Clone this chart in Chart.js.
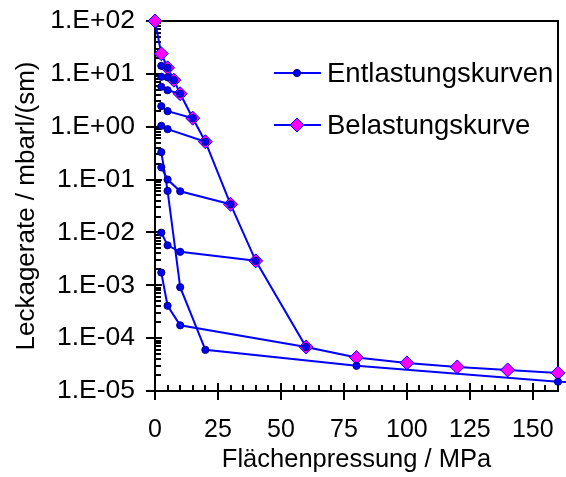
<!DOCTYPE html>
<html lang="de">
<head>
<meta charset="UTF-8">
<title>Leckagerate über Flächenpressung</title>
<script src="https://cdn.jsdelivr.net/npm/chart.js@4"></script>
<style>
  html, body { margin: 0; padding: 0; background: #fff; }
  #chart { display: block; }
</style>
</head>
<body>
<canvas id="chart" width="566" height="477"></canvas>
<script>
// Belastungskurve: Flächenpressung in MPa, Leckagerate in mbar·l/(s·m)
const belDruck = [0, 2.5, 5, 7.5, 10, 15, 20, 30, 40, 60, 80, 100, 120, 140, 160, 180];
const belLeck = [100, 24, 13, 7.6, 4.2, 1.45, 0.52, 0.034, 0.0029, 6.8e-5, 4.3e-5, 3.4e-5, 2.85e-5, 2.5e-5, 2.2e-5, 1.95e-5];

// Entlastungskurven, jeweils vom Höchstwert der Belastung abwärts
const ent5Druck = [5, 2.5];
const ent5Leck = [13, 14.2];
const ent7Druck = [7.5, 5, 2.5];
const ent7Leck = [7.6, 8.6, 8.8];
const ent10Druck = [10, 5, 2.5];
const ent10Leck = [4.2, 4.9, 5.7];
const ent15Druck = [15, 5, 2.5];
const ent15Leck = [1.45, 1.97, 2.45];
const ent20Druck = [20, 5, 2.5];
const ent20Leck = [0.52, 0.9, 1.04];
const ent30Druck = [30, 10, 5, 2.5];
const ent30Leck = [0.034, 0.06, 0.1, 0.17];
const ent40Druck = [40, 10, 5, 2.5];
const ent40Leck = [0.0029, 0.0043, 0.0057, 0.0099];
const ent60Druck = [60, 10, 5, 2.5];
const ent60Leck = [6.8e-5, 1.75e-4, 4.1e-4, 1.74e-3];
const ent160Druck = [180, 160, 80, 20, 10, 5, 2.5];
const ent160Leck = [1.35e-5, 1.5e-5, 3.0e-5, 6.0e-5, 9.2e-4, 0.061, 0.33];

const xTicks = [0, 25, 50, 75, 100, 125, 150];
const yTicks = [1e-5, 1e-4, 1e-3, 1e-2, 1e-1, 1e0, 1e1, 1e2];

const entlastungen = [
  [ent5Druck, ent5Leck], [ent7Druck, ent7Leck], [ent10Druck, ent10Leck],
  [ent15Druck, ent15Leck], [ent20Druck, ent20Leck], [ent30Druck, ent30Leck],
  [ent40Druck, ent40Leck], [ent60Druck, ent60Leck], [ent160Druck, ent160Leck]
];

const blau = '#0000FF';
const magenta = '#FF00FF';
const schrift = 'Liberation Sans, Arial, sans-serif';

function punkte(xs, ys) {
  return xs.map((x, i) => ({ x: x, y: ys[i] }));
}

// 1.E+02 usw. wie in Excel
function expLabel(v) {
  const e = Math.round(Math.log10(v));
  return '1.E' + (e < 0 ? '-' : '+') + String(Math.abs(e)).padStart(2, '0');
}

const datasets = entlastungen.map(([xs, ys]) => ({
  label: 'Entlastungskurven',
  data: punkte(xs, ys),
  showLine: true,
  borderColor: blau,
  borderWidth: 2,
  pointRadius: 3.6,
  pointBackgroundColor: blau,
  pointBorderColor: '#000080',
  pointBorderWidth: 1,
  clip: 8
}));
datasets.push({
  label: 'Belastungskurve',
  data: punkte(belDruck, belLeck),
  showLine: true,
  borderColor: blau,
  borderWidth: 2,
  pointStyle: 'rectRot',
  pointRadius: 7,
  pointBackgroundColor: magenta,
  pointBorderColor: blau,
  pointBorderWidth: 1,
  clip: 8
});

// Rahmen und Teilstriche (Hauptstriche kreuzen die Achse, Nebenstriche innen)
const rahmen = {
  id: 'rahmen',
  beforeDatasetsDraw(chart) {
    const { ctx, chartArea: a, scales: { x, y } } = chart;
    ctx.save();
    ctx.strokeStyle = '#000';
    ctx.lineWidth = 2;
    ctx.beginPath();
    for (let v = 0; v <= 160; v += 5) {
      const px = Math.round(x.getPixelForValue(v));
      const haupt = v % 25 === 0;
      ctx.moveTo(px, a.bottom + (haupt ? 9 : 0));
      ctx.lineTo(px, a.bottom - (haupt ? 8 : 6));
    }
    for (let e = -5; e <= 2; e++) {
      for (let m = 1; m <= 9; m++) {
        if (e === 2 && m > 1) break;
        const py = Math.round(y.getPixelForValue(m * Math.pow(10, e)));
        ctx.moveTo(a.left - (m === 1 ? 9 : 0), py);
        ctx.lineTo(a.left + (m === 1 ? 7 : 6), py);
      }
    }
    ctx.stroke();
    ctx.strokeRect(a.left, a.top, a.right - a.left, a.bottom - a.top);
    ctx.restore();
  }
};

// Legende innerhalb der Zeichenfläche
const legende = {
  id: 'legende',
  afterDatasetsDraw(chart) {
    const ctx = chart.ctx;
    const eintraege = [
      { ds: chart.data.datasets[0], y: 73 },
      { ds: chart.data.datasets[chart.data.datasets.length - 1], y: 125 }
    ];
    ctx.save();
    for (const { ds, y } of eintraege) {
      ctx.strokeStyle = ds.borderColor;
      ctx.lineWidth = ds.borderWidth;
      ctx.beginPath();
      ctx.moveTo(274, y);
      ctx.lineTo(321, y);
      ctx.stroke();
      ctx.fillStyle = ds.pointBackgroundColor;
      ctx.strokeStyle = ds.pointBorderColor;
      ctx.lineWidth = ds.pointBorderWidth;
      Chart.helpers.drawPoint(ctx, {
        pointStyle: ds.pointStyle || 'circle',
        radius: ds.pointRadius,
        rotation: 0,
        borderWidth: ds.pointBorderWidth
      }, 297, y);
      ctx.fillStyle = '#000';
      ctx.font = '27.5px ' + schrift;
      ctx.textBaseline = 'middle';
      ctx.textAlign = 'left';
      ctx.fillText(ds.label, 327, y + 1);
    }
    ctx.restore();
  }
};

new Chart(document.getElementById('chart'), {
  type: 'scatter',
  data: { datasets: datasets },
  options: {
    responsive: false,
    animation: false,
    devicePixelRatio: 1,
    layout: { padding: { top: 21, right: 6, left: 0, bottom: 0 } },
    plugins: {
      legend: { display: false },
      tooltip: { enabled: false }
    },
    scales: {
      x: {
        type: 'linear',
        min: 0,
        max: 160,
        afterBuildTicks: (s) => { s.ticks = xTicks.map(v => ({ value: v })); },
        afterFit: (s) => { s.height = 86; },
        // Teilstriche zeichnet das Plugin; tickLength dient nur als Abstand der Beschriftung
        grid: { display: false, drawTicks: true, tickLength: 24 },
        border: { display: false },
        ticks: {
          color: '#000',
          font: { family: schrift, size: 25 },
          padding: 0,
          maxRotation: 0,
          autoSkip: false,
          callback: (v) => String(v)
        },
        title: {
          display: true,
          text: 'Flächenpressung / MPa',
          color: '#000',
          font: { family: schrift, size: 25.5 },
          padding: { top: 0, bottom: 2 }
        }
      },
      y: {
        type: 'logarithmic',
        min: 1e-5,
        max: 100,
        afterBuildTicks: (s) => { s.ticks = yTicks.map(v => ({ value: v })); },
        afterFit: (s) => { s.width = 155; },
        grid: { display: false, drawTicks: true, tickLength: 20 },
        border: { display: false },
        ticks: {
          color: '#000',
          font: { family: schrift, size: 26.5 },
          padding: 0,
          autoSkip: false,
          callback: (v) => expLabel(v)
        },
        title: {
          display: true,
          text: 'Leckagerate / mbarl/(sm)',
          color: '#000',
          font: { family: schrift, size: 26 },
          padding: { top: 11, bottom: 0 }
        }
      }
    }
  },
  plugins: [rahmen, legende]
});
</script>
</body>
</html>
